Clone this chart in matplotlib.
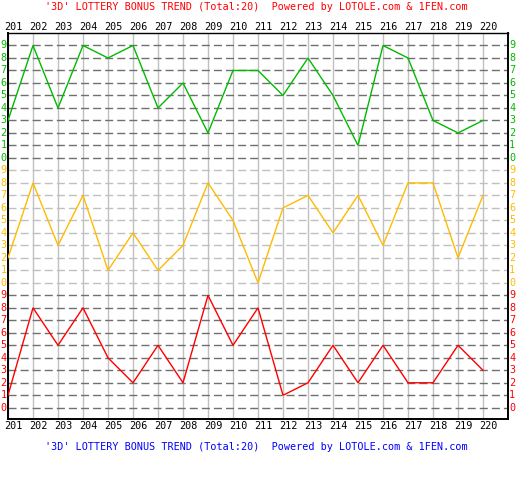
import matplotlib
matplotlib.use("Agg")
import matplotlib.pyplot as plt

# datos: periodos y los tres digitos del sorteo
periods = list(range(201, 221))
hundreds = [3, 9, 4, 9, 8, 9, 4, 6, 2, 7, 7, 5, 8, 5, 1, 9, 8, 3, 2, 3]
tens = [2, 8, 3, 7, 1, 4, 1, 3, 8, 5, 0, 6, 7, 4, 7, 3, 8, 8, 2, 7]
units = [1, 8, 5, 8, 4, 2, 5, 2, 9, 5, 8, 1, 2, 5, 2, 5, 2, 2, 5, 3]
digits = list(range(10))

title_red = "'3D' LOTTERY BONUS TREND (Total:20)  Powered by LOTOLE.com & 1FEN.com"
title_blue = "'3D' LOTTERY BONUS TREND (Total:20)  Powered by LOTOLE.com & 1FEN.com"

plt.rcParams["lines.scale_dashes"] = False
mono = "DejaVu Sans Mono"
fs = 7.3

W, H = 518, 500
fig = plt.figure(figsize=(W / 100, H / 100), dpi=100)
fig.patch.set_facecolor("white")

# eje principal en pixeles de la referencia
left, right, top, bottom = 8, 508, 33, 419
ax = fig.add_axes([left / W, 1 - bottom / H, (right - left) / W, (bottom - top) / H])
ax.set_xlim(201, 221)
ax.set_ylim(-0.9, 30)
ax.set_xticks([])
ax.set_yticks([])
for s in ax.spines.values():
    s.set_color("black")
    s.set_linewidth(1.4)
ax.spines["top"].set_linewidth(1.0)

# secciones: (valores, desplazamiento, color linea, color etiqueta, color rejilla)
sections = [
    (hundreds, 20, "#00BB00", "#00BB00", "#707070"),
    (tens, 10, "#FFBB00", "#FFBB00", "#C0C0C0"),
    (units, 0, "#FF0000", "#FF0000", "#707070"),
]

# rejilla vertical
for p in periods:
    ax.axvline(p, color="#C0C0C0", lw=1.0, zorder=1)

for vals, off, lc, tc, gc in sections:
    for d in digits:
        ax.axhline(d + off, color=gc, lw=1.0, linestyle=(0, (5.8, 2.9)), zorder=1)
        ax.text(200.82, d + off, str(d), color=tc, fontsize=fs, family=mono,
                ha="center", va="center", clip_on=False)
        ax.text(221.17, d + off, str(d), color=tc, fontsize=fs, family=mono,
                ha="center", va="center", clip_on=False)
    ax.plot(periods, [v + off for v in vals], color=lc, lw=1.0, zorder=3,
            solid_joinstyle="miter")

# etiquetas de periodos arriba y abajo
for p in periods:
    ax.text(p + 0.2, 30.5, str(p), color="black", fontsize=fs, family=mono,
            ha="center", va="center", clip_on=False)
    ax.text(p + 0.2, -1.48, str(p), color="black", fontsize=fs, family=mono,
            ha="center", va="center", clip_on=False)

fig.text(45 / W, 1 - 7 / H, title_red, color="#FF0000", fontsize=fs, family=mono,
         ha="left", va="center")
fig.text(45 / W, 1 - 447 / H, title_blue, color="#0000FF", fontsize=fs, family=mono,
         ha="left", va="center")

fig.savefig("out.png", dpi=100)
